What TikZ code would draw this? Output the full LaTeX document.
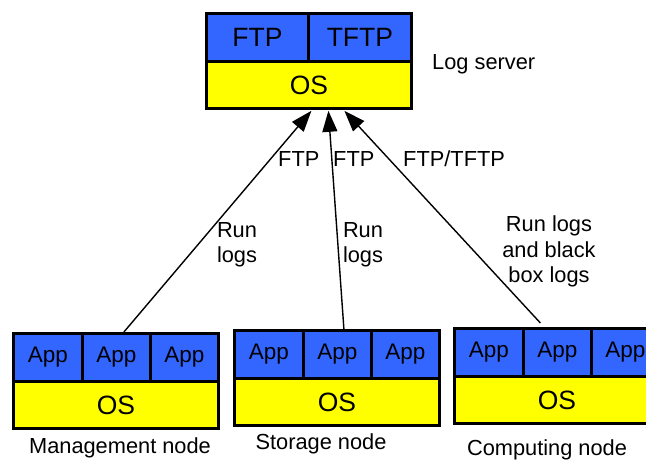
\documentclass[tikz,border=0pt]{standalone}
\usepackage{fontspec}
\setmainfont{Liberation Sans}
\usetikzlibrary{arrows.meta}
\definecolor{cellblue}{RGB}{51,102,255}
\definecolor{cellyellow}{RGB}{255,255,0}

% one host: three App cells over an OS bar
% #1 name prefix, #2 left x, #3 top y
\newcommand\hoststack[3]{%
  \node[bluecell, appfont, minimum width=69pt, minimum height=48pt] (#1a) at (#2,#3) {App};
  \node[bluecell, appfont, minimum width=68pt, minimum height=48pt] (#1b) at (#2+69,#3) {App};
  \node[bluecell, appfont, minimum width=68pt, minimum height=48pt] (#1c) at (#2+137,#3) {App};
  \node[yellowcell, bigfont, minimum width=205pt, minimum height=47pt] (#1os) at (#2,#3+48) {OS};
}

\begin{document}
\begin{tikzpicture}[x=1pt,y=-1pt,
  cell/.style={draw=black, line width=2.8pt, inner sep=0pt, anchor=north west},
  bluecell/.style={cell, fill=cellblue},
  yellowcell/.style={cell, fill=cellyellow},
  bigfont/.style={font=\fontsize{26.5}{30}\selectfont},
  appfont/.style={font=\fontsize{22.5}{26}\selectfont},
  lbl/.style={font=\fontsize{21.8}{25.5}\selectfont, align=center, inner sep=0pt},
  link/.style={line width=1.4pt, -{Triangle[length=21pt,width=15pt]}}]

\fill[white] (0,0) rectangle (646,459);
\useasboundingbox (0,0) rectangle (646,459);
\clip (0,0) rectangle (646,459);

% log server
\node[bluecell, bigfont, minimum width=102pt, minimum height=48pt] (ftp) at (205,12) {FTP};
\node[bluecell, bigfont, minimum width=103pt, minimum height=48pt] (tftp) at (307,12) {TFTP};
\node[yellowcell, bigfont, minimum width=205pt, minimum height=47pt] (los) at (205,60) {OS};
\node[lbl, anchor=base west] (logsrv) at (432,69) {Log server};

% hosts
\hoststack{m}{12}{332}
\hoststack{s}{233}{329}
\hoststack{c}{453}{327}

\node[lbl, anchor=base] (mname) at (120,453) {Management node};
\node[lbl, anchor=base] (sname) at (321,449) {Storage node};
\node[lbl, anchor=base] (cname) at (547,455) {Computing node};

% arrow ends on the log server and on the hosts
\coordinate (tipL) at ([xshift=2.5pt,yshift=-1pt]los.south);
\coordinate (tipM) at ([xshift=19.5pt,yshift=-1pt]los.south);
\coordinate (tipR) at ([xshift=35.5pt,yshift=-1pt]los.south);
\coordinate (tailL) at ([xshift=7.5pt]mb.north);
\coordinate (tailM) at ([xshift=6.5pt]sb.north);
\coordinate (tailR) at ([xshift=-17pt,yshift=4pt]cb.north);

\draw[link] (tailL) -- (tipL);
\draw[link] (tailM) -- (tipM);
\draw[link] (tailR) -- (tipR);

% protocol and content labels
\node[lbl, anchor=base west] (pL) at (278,166) {FTP};
\node[lbl, anchor=base west] (pM) at (333,166) {FTP};
\node[lbl, anchor=base west] (pR) at (403,166) {FTP/TFTP};

\node[lbl] (rL) at (237,245) {Run\\logs};
\node[lbl] (rM) at (363,245) {Run\\logs};
\node[lbl] (rR) at (549,251.5) {Run logs\\and black\\box logs};
\end{tikzpicture}
\end{document}
